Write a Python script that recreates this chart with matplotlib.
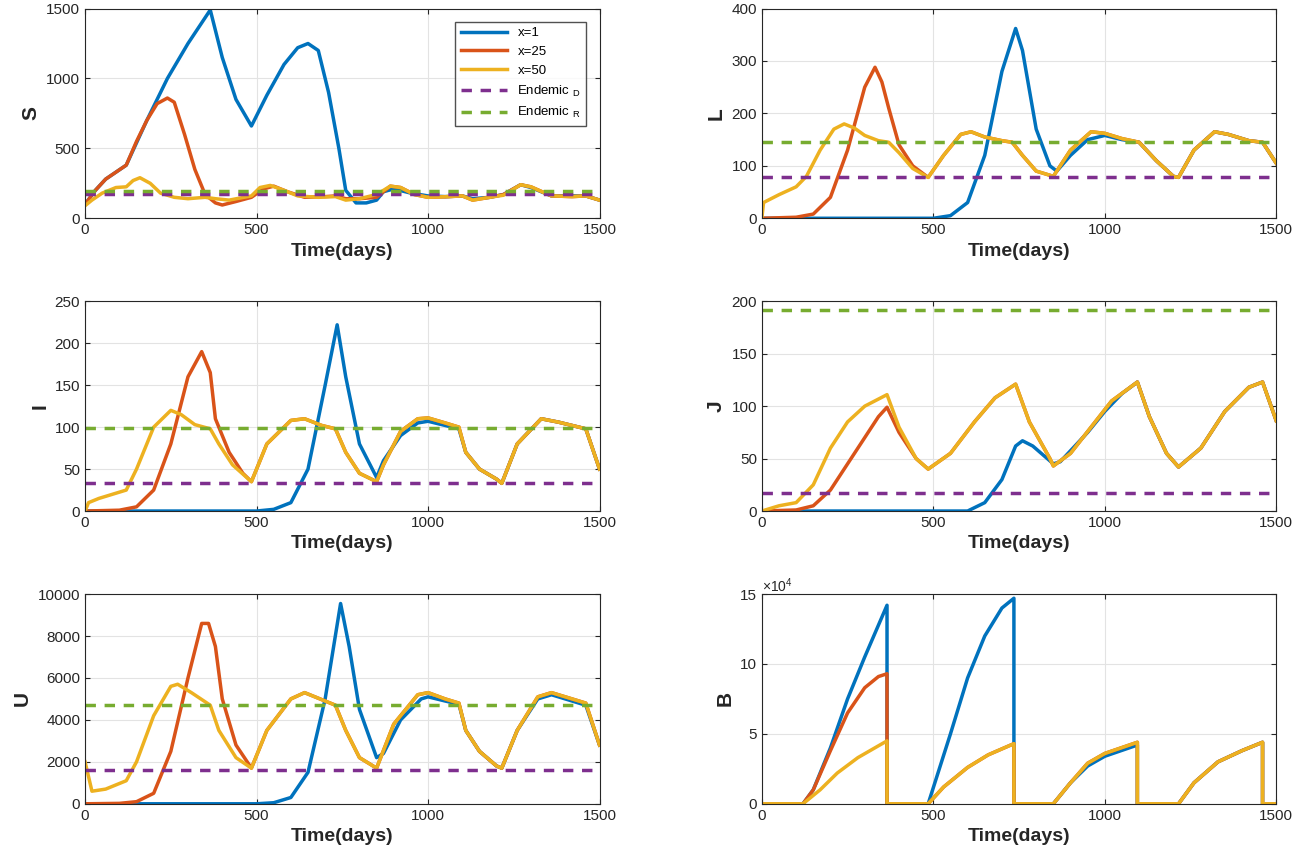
import matplotlib
matplotlib.use("Agg")
import matplotlib.pyplot as plt
import numpy as np

plt.rcParams["font.family"] = ["Liberation Sans", "DejaVu Sans"]
plt.rcParams["mathtext.fontset"] = "custom"
plt.rcParams["mathtext.rm"] = "Liberation Sans"
plt.rcParams["mathtext.it"] = "Liberation Sans"

# ── Data (time, value) ───────────────────────────────────────────────────────
S_x1 = [(0,100),(30,200),(60,280),(90,330),(120,380),(180,700),(240,1000),(300,1250),(365,1490),(400,1150),(440,850),(485,660),(530,880),(580,1100),(620,1220),(650,1250),(680,1200),(710,900),(740,500),(760,200),(790,110),(820,110),(850,130),(870,190),(900,210),(950,180),(1000,160),(1050,155),(1100,160),(1130,140),(1180,150),(1220,170),(1270,240),(1300,220),(1360,160),(1420,160),(1460,160),(1500,130)]
S_x25 = [(0,100),(30,200),(60,280),(90,330),(120,380),(150,550),(180,700),(210,820),(240,860),(260,830),(290,600),(320,350),(350,170),(380,110),(400,95),(440,120),(485,150),(520,210),(550,230),(590,190),(640,150),(700,155),(730,160),(760,140),(800,140),(850,150),(890,230),(920,220),(960,170),(1000,150),(1060,155),(1100,160),(1130,130),(1180,150),(1220,170),(1270,240),(1300,225),(1360,160),(1420,155),(1460,160),(1500,130)]
S_x50 = [(0,90),(20,130),(50,180),(90,220),(120,225),(140,270),(160,290),(190,250),(220,180),(260,150),(300,140),(350,150),(380,140),(420,130),(485,160),(510,220),(540,235),(580,200),(620,160),(680,150),(730,155),(760,130),(800,140),(850,170),(890,230),(920,220),(960,170),(1000,150),(1060,155),(1100,160),(1130,130),(1180,150),(1220,165),(1270,240),(1300,225),(1360,160),(1420,155),(1460,160),(1500,130)]
S_end = (175, 195)

L_x1 = [(0,0),(500,0),(550,5),(600,30),(650,120),(700,280),(740,362),(760,320),(800,170),(840,100),(860,90),(900,120),(950,150),(1000,158),(1050,150),(1100,145),(1150,110),(1200,80),(1215,78),(1260,130),(1320,165),(1360,160),(1420,148),(1460,145),(1500,105)]
L_x25 = [(0,0),(100,2),(150,8),(200,40),(250,130),(300,250),(330,288),(350,260),(370,210),(400,140),(440,100),(485,78),(530,120),(580,160),(610,165),(650,155),(700,148),(730,145),(760,120),(800,90),(850,80),(900,130),(960,165),(1000,162),(1050,152),(1100,145),(1150,110),(1200,80),(1215,78),(1260,130),(1320,165),(1360,160),(1420,148),(1460,145),(1500,105)]
L_x50 = [(0,0),(5,30),(20,35),(50,45),(100,60),(130,80),(170,130),(210,170),(240,180),(270,172),(300,158),(340,148),(370,145),(400,125),(440,95),(485,78),(530,120),(580,160),(610,165),(650,155),(700,148),(730,145),(760,120),(800,90),(850,80),(900,130),(960,165),(1000,162),(1050,152),(1100,145),(1150,110),(1200,80),(1215,78),(1260,130),(1320,165),(1360,160),(1420,148),(1460,145),(1500,105)]
L_end = (78, 145)

I_x1 = [(0,0),(500,0),(550,2),(600,10),(650,50),(700,150),(735,222),(760,160),(800,80),(850,40),(870,60),(920,90),(970,105),(1000,107),(1050,102),(1090,98),(1110,70),(1150,50),(1200,38),(1215,33),(1260,80),(1330,110),(1380,106),(1440,100),(1460,98),(1500,50)]
I_x25 = [(0,0),(100,1),(150,5),(200,25),(250,80),(300,160),(340,190),(365,165),(380,110),(420,70),(460,45),(485,35),(530,80),(600,108),(640,110),(690,102),(730,98),(760,70),(800,45),(850,35),(870,55),(920,95),(970,110),(1000,111),(1050,105),(1090,100),(1110,70),(1150,50),(1200,38),(1215,33),(1260,80),(1330,110),(1380,106),(1440,100),(1460,98),(1500,50)]
I_x50 = [(0,0),(10,10),(40,15),(120,25),(150,50),(200,100),(250,120),(280,115),(320,103),(365,98),(390,80),(430,55),(485,35),(530,80),(600,108),(640,110),(690,102),(730,98),(760,70),(800,45),(850,35),(870,55),(920,95),(970,110),(1000,111),(1050,105),(1090,100),(1110,70),(1150,50),(1200,38),(1215,33),(1260,80),(1330,110),(1380,106),(1440,100),(1460,98),(1500,50)]
I_end = (33, 99)

J_x1 = [(0,0),(600,0),(650,8),(700,30),(740,62),(760,67),(790,62),(850,45),(870,47),(950,75),(1000,95),(1050,112),(1095,123),(1130,90),(1180,55),(1215,42),(1280,60),(1350,95),(1420,118),(1460,123),(1500,86)]
J_x25 = [(0,0),(100,1),(150,5),(200,20),(250,45),(300,70),(340,90),(365,99),(400,75),(450,50),(485,40),(550,55),(620,85),(680,108),(740,121),(780,85),(840,50),(850,43),(900,55),(960,80),(1020,105),(1095,123),(1130,90),(1180,55),(1215,42),(1280,60),(1350,95),(1420,118),(1460,123),(1500,86)]
J_x50 = [(0,0),(50,5),(100,8),(150,25),(200,60),(250,85),(300,100),(365,111),(400,80),(450,50),(485,40),(550,55),(620,85),(680,108),(740,121),(780,85),(840,50),(850,43),(900,55),(960,80),(1020,105),(1095,123),(1130,90),(1180,55),(1215,42),(1280,60),(1350,95),(1420,118),(1460,123),(1500,86)]
J_end = (17, 192)

U_x1 = [(0,0),(500,0),(550,50),(600,300),(650,1500),(700,5000),(745,9550),(770,7500),(800,4500),(850,2200),(870,2400),(920,4000),(980,5000),(1000,5100),(1050,4900),(1090,4750),(1110,3500),(1150,2500),(1200,1800),(1215,1700),(1260,3500),(1320,5000),(1360,5200),(1420,4900),(1460,4700),(1500,2800)]
U_x25 = [(0,0),(100,20),(150,100),(200,500),(250,2500),(300,6000),(340,8600),(360,8600),(380,7500),(400,5000),(440,2800),(485,1700),(530,3500),(600,5000),(640,5300),(700,4900),(730,4700),(760,3500),(800,2200),(850,1700),(900,3800),(970,5200),(1000,5300),(1050,5000),(1090,4800),(1110,3500),(1150,2500),(1200,1800),(1215,1700),(1260,3500),(1320,5100),(1360,5300),(1420,5000),(1460,4800),(1500,2800)]
U_x50 = [(0,2000),(20,600),(60,700),(120,1100),(150,2000),(200,4200),(250,5600),(270,5700),(310,5300),(365,4700),(390,3500),(440,2200),(485,1700),(530,3500),(600,5000),(640,5300),(700,4900),(730,4700),(760,3500),(800,2200),(850,1700),(900,3800),(970,5200),(1000,5300),(1050,5000),(1090,4800),(1110,3500),(1150,2500),(1200,1800),(1215,1700),(1260,3500),(1320,5100),(1360,5300),(1420,5000),(1460,4800),(1500,2800)]
U_end = (1600, 4700)

B_x1 = [(0,0),(120,0),(150,1e4),(200,4e4),(250,7.5e4),(300,10.5e4),(365,14.2e4),(365,0),(485,0),(550,5e4),(600,9e4),(650,12e4),(700,14e4),(735,14.7e4),(735,0),(850,0),(900,1.5e4),(950,2.7e4),(1000,3.4e4),(1095,4.2e4),(1095,0),(1215,0),(1260,1.5e4),(1330,3e4),(1400,3.8e4),(1460,4.4e4),(1460,0),(1500,0)]
B_x25 = [(0,0),(120,0),(150,1e4),(200,3.8e4),(250,6.5e4),(300,8.3e4),(340,9.1e4),(365,9.3e4),(365,0),(485,0),(530,1.2e4),(600,2.6e4),(660,3.5e4),(735,4.3e4),(735,0),(850,0),(900,1.5e4),(950,2.9e4),(1000,3.6e4),(1095,4.4e4),(1095,0),(1215,0),(1260,1.5e4),(1330,3e4),(1400,3.8e4),(1460,4.4e4),(1460,0),(1500,0)]
B_x50 = [(0,0),(120,0),(170,1e4),(220,2.2e4),(280,3.3e4),(365,4.5e4),(365,0),(485,0),(530,1.2e4),(600,2.6e4),(660,3.5e4),(735,4.3e4),(735,0),(850,0),(900,1.5e4),(950,2.9e4),(1000,3.6e4),(1095,4.4e4),(1095,0),(1215,0),(1260,1.5e4),(1330,3e4),(1400,3.8e4),(1460,4.4e4),(1460,0),(1500,0)]

# ── Style ────────────────────────────────────────────────────────────────────
C_BLUE, C_RED, C_YEL = "#0072BD", "#D95319", "#EDB120"
C_PUR, C_GRN = "#7E2F8E", "#77AC30"
INK = "#262626"

panels = [
    ("S", S_x1, S_x25, S_x50, S_end, (0, 1500), [0, 500, 1000, 1500]),
    ("L", L_x1, L_x25, L_x50, L_end, (0, 400), [0, 100, 200, 300, 400]),
    ("I", I_x1, I_x25, I_x50, I_end, (0, 250), [0, 50, 100, 150, 200, 250]),
    ("J", J_x1, J_x25, J_x50, J_end, (0, 200), [0, 50, 100, 150, 200]),
    ("U", U_x1, U_x25, U_x50, U_end, (0, 10000), [0, 2000, 4000, 6000, 8000, 10000]),
    ("B", B_x1, B_x25, B_x50, None, (0, 15e4), [0, 5e4, 10e4, 15e4]),
]

fig = plt.figure(figsize=(13.09, 8.56), dpi=100)
lefts = [0.065, 0.582]
bottoms = [0.745, 0.403, 0.061]
W, H = 0.393, 0.245

for k, (name, s1, s25, s50, end, ylim, yt) in enumerate(panels):
    ax = fig.add_axes([lefts[k % 2], bottoms[k // 2], W, H])
    for ser, c, lab in [(s1, C_BLUE, "x=1"), (s25, C_RED, "x=25"), (s50, C_YEL, "x=50")]:
        t, v = zip(*ser)
        ax.plot(t, v, color=c, lw=2.5, label=lab, solid_joinstyle="round")
    if end is not None:
        ax.axhline(end[0], color=C_PUR, lw=2.5, ls=(0, (3, 2.5)), label="Endemic $_D$")
        ax.axhline(end[1], color=C_GRN, lw=2.5, ls=(0, (3, 2.5)), label="Endemic $_R$")
    ax.set_xlim(0, 1500)
    ax.set_ylim(*ylim)
    ax.set_xticks([0, 500, 1000, 1500])
    ax.set_yticks(yt)
    if name == "B":
        ax.set_yticklabels(["0", "5", "10", "15"])
        ax.text(0, 1.01, r"$\times10^4$", transform=ax.transAxes, fontsize=10, color=INK)
    ax.grid(True, color="#e3e3e3", lw=0.8)
    ax.tick_params(direction="in", top=True, right=True, labelsize=11, colors=INK)
    for sp in ax.spines.values():
        sp.set_color(INK)
        sp.set_linewidth(0.8)
    ax.set_xlabel("Time(days)", fontsize=14, fontweight="bold", color=INK)
    ax.set_ylabel(name, fontsize=15, fontweight="bold", color=INK)
    if name == "S":
        ax.legend(loc="upper right", fontsize=9.5, frameon=True, fancybox=False,
                  edgecolor=INK, handlelength=3.5, borderaxespad=1.0)

fig.savefig("out.png", dpi=100)
